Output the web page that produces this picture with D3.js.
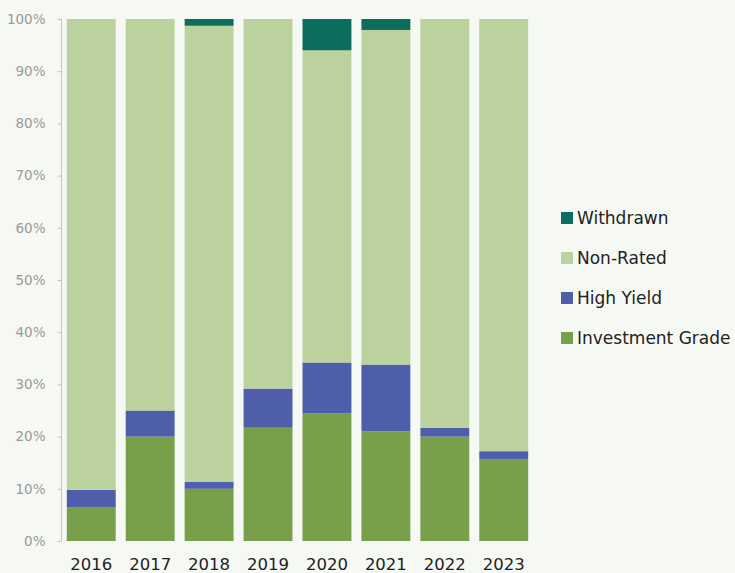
<!DOCTYPE html>
<html>
<head>
<meta charset="utf-8">
<script src="https://cdn.jsdelivr.net/npm/d3@7"></script>
<style>
body { margin: 0; background: #f6f8f4; }
svg { display: block; font-family: "DejaVu Sans", "Noto Sans", sans-serif; }
</style>
</head>
<body>
<script>
var width = 735, height = 573;

var years = ["2016", "2017", "2018", "2019", "2020", "2021", "2022", "2023"];
var investmentGrade = [6.4, 20.0, 10.0, 21.7, 24.5, 21.0, 20.0, 15.7];
var highYield = [3.4, 5.0, 1.3, 7.5, 9.7, 12.8, 1.7, 1.5];
var withdrawn = [0, 0, 1.3, 0, 6.0, 2.1, 0, 0];
var nonRated = years.map(function(y, i) {
	return 100 - investmentGrade[i] - highYield[i] - withdrawn[i];
});

var seriesNames = ["Investment Grade", "High Yield", "Non-Rated", "Withdrawn"];
var seriesColors = ["#789f4a", "#4f5eab", "#bbd29e", "#0d6d5c"];
var yTicks = [0, 10, 20, 30, 40, 50, 60, 70, 80, 90, 100];

var rows = years.map(function(y, i) {
	return {year: y, "Investment Grade": investmentGrade[i], "High Yield": highYield[i],
		"Non-Rated": nonRated[i], "Withdrawn": withdrawn[i]};
});

var svg = d3.select("body").append("svg")
	.attr("width", width)
	.attr("height", height);

var x = d3.scaleBand().domain(years).range([61.5, 533.5]).paddingInner(0.17).paddingOuter(0.09);
var y = d3.scaleLinear().domain([0, 100]).range([541, 19]);

var stack = d3.stack().keys(seriesNames)(rows);

svg.selectAll("g.series")
	.data(stack)
	.enter()
	.append("g")
	.attr("fill", function(d, i) { return seriesColors[i]; })
	.selectAll("rect")
	.data(function(d) { return d; })
	.enter()
	.append("rect")
	.attr("x", function(d) { return x(d.data.year); })
	.attr("width", x.bandwidth())
	.attr("y", function(d) { return y(d[1]); })
	.attr("height", function(d) { return y(d[0]) - y(d[1]); });

// y axis
var yAxis = svg.append("g")
	.attr("transform", "translate(61.5,0)")
	.call(d3.axisLeft(y).tickValues(yTicks).tickSize(4).tickPadding(12)
		.tickFormat(function(d) { return d + "%"; }));
yAxis.selectAll("line, path").attr("stroke", "#c4c4c4");
yAxis.select(".domain").attr("d", "M0," + y(100) + "V" + y(0));
yAxis.selectAll("text")
	.attr("fill", "#9a9a9a")
	.attr("font-size", 13.5)
	.attr("font-family", "'DejaVu Sans', sans-serif");

// x labels
svg.selectAll("text.year")
	.data(years)
	.enter()
	.append("text")
	.attr("class", "year")
	.attr("x", function(d) { return x(d) + x.bandwidth() / 2; })
	.attr("y", 570)
	.attr("text-anchor", "middle")
	.attr("fill", "#222")
	.attr("font-size", 16.5)
	.text(function(d) { return d; });

// legend
var legendOrder = ["Withdrawn", "Non-Rated", "High Yield", "Investment Grade"];
var legend = svg.selectAll("g.legend")
	.data(legendOrder)
	.enter()
	.append("g")
	.attr("transform", function(d, i) { return "translate(561," + (218 + i * 40) + ")"; });
legend.append("rect")
	.attr("x", 0)
	.attr("y", -6)
	.attr("width", 12)
	.attr("height", 12)
	.attr("fill", function(d) { return seriesColors[seriesNames.indexOf(d)]; });
legend.append("text")
	.attr("x", 16)
	.attr("y", 6)
	.attr("fill", "#222")
	.attr("font-size", 17)
	.text(function(d) { return d; });
</script>
</body>
</html>
